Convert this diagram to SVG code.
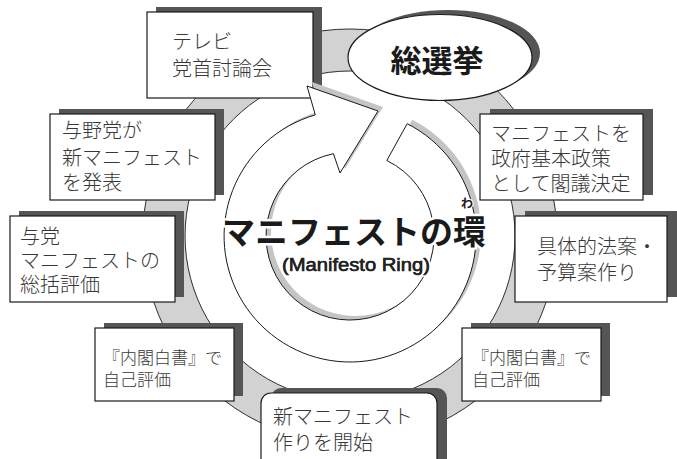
<svg xmlns="http://www.w3.org/2000/svg" width="677" height="459" viewBox="0 0 677 459">
<defs>
<style>
.sh{fill:#555555}
.bx{fill:#ffffff;stroke:#1a1a1a;stroke-width:1.2}
.t{font-family:"Noto Sans CJK JP","Noto Sans",sans-serif;font-size:20px;font-weight:300;fill:#383838}
.ts{font-family:"Noto Sans CJK JP","Noto Sans",sans-serif;font-size:17px;font-weight:300;fill:#383838}
</style>
</defs>
<rect width="677" height="459" fill="#ffffff"/>
<g id="bgring">
<path d="M350,29 A207,207 0 1 1 349.9,29 Z M350,71 A165,165 0 1 0 350.1,71 Z" fill="#d2d2d2" fill-rule="evenodd" stroke="#1a1a1a" stroke-width="0.9"/>
</g>
<g id="n-tv">
<rect class="sh" x="156" y="7" width="166" height="86"/>
<rect class="bx" x="147" y="12" width="166" height="86"/>
<text class="t" x="172" y="49">テレビ</text>
<text class="t" x="172" y="76">党首討論会</text>
</g>
<g id="n-election">
<ellipse class="sh" cx="448" cy="53" rx="92" ry="43"/>
<ellipse class="bx" cx="440" cy="57.5" rx="92" ry="43"/>
<text x="437" y="72" text-anchor="middle" font-family="Noto Sans CJK JP,sans-serif" font-size="31" font-weight="bold" fill="#1a1a1a">総選挙</text>
</g>
<g id="n-cabinet">
<rect class="sh" x="490" y="109" width="163" height="86"/>
<rect class="bx" x="480" y="114" width="163" height="86"/>
<text class="t" x="491" y="141">マニフェストを</text>
<text class="t" x="491" y="166">政府基本政策</text>
<text class="t" x="491" y="191">として閣議決定</text>
</g>
<g id="n-bills">
<rect class="sh" x="525" y="211" width="152" height="86"/>
<rect class="bx" x="515" y="216" width="152" height="86"/>
<text class="t" x="537" y="254">具体的法案・</text>
<text class="t" x="537" y="280">予算案作り</text>
</g>
<g id="n-parties">
<rect class="sh" x="59" y="109" width="165" height="86"/>
<rect class="bx" x="50" y="114" width="165" height="86"/>
<text class="t" x="62" y="138">与野党が</text>
<text class="t" x="62" y="165">新マニフェスト</text>
<text class="t" x="62" y="190">を発表</text>
</g>
<g id="n-ruling">
<rect class="sh" x="19" y="211" width="165" height="86"/>
<rect class="bx" x="10" y="216" width="165" height="86"/>
<text class="t" x="20" y="244">与党</text>
<text class="t" x="20" y="268">マニフェストの</text>
<text class="t" x="20" y="292">総括評価</text>
</g>
<g id="n-white-left">
<rect class="sh" x="104" y="323" width="139" height="73"/>
<rect class="bx" x="95" y="328" width="139" height="73"/>
<text class="ts" x="103" y="364">『内閣白書』で</text>
<text class="ts" x="103" y="386">自己評価</text>
</g>
<g id="n-white-right">
<rect class="sh" x="471" y="323" width="139" height="73"/>
<rect class="bx" x="462" y="328" width="139" height="73"/>
<text class="ts" x="472" y="364">『内閣白書』で</text>
<text class="ts" x="472" y="386">自己評価</text>
</g>
<g id="n-new">
<rect class="sh" x="271" y="388" width="176" height="90" rx="10"/>
<rect class="bx" x="261" y="393" width="176" height="90" rx="10"/>
<text class="t" x="273" y="424">新マニフェスト</text>
<text class="t" x="273" y="450">作りを開始</text>
</g>
<g id="connectors">
<path transform="translate(5,-4)" d="M407.2,123.7 A126,126 0 1 1 315.3,114.9 L307,86 L378,111 L340,173 L333.4,153.7 A84,84 0 1 0 386.8,160.5 Z" fill="#c4c4c4"/>
<path d="M407.2,123.7 A126,126 0 1 1 315.3,114.9 L307,86 L378,111 L340,173 L333.4,153.7 A84,84 0 1 0 386.8,160.5 Z" fill="#ffffff" stroke="#1a1a1a" stroke-width="1" stroke-linejoin="miter"/>
</g>
<g id="title">
<text x="354" y="244" text-anchor="middle" font-family="Noto Sans CJK JP,sans-serif" font-size="33" font-weight="bold" fill="#1a1a1a" stroke="#ffffff" stroke-width="5" paint-order="stroke" stroke-linejoin="round">マニフェストの環</text>
<text x="467" y="208" text-anchor="middle" font-family="Noto Sans CJK JP,sans-serif" font-size="12" font-weight="bold" fill="#1a1a1a" stroke="#ffffff" stroke-width="2" paint-order="stroke">わ</text>
<text x="356" y="271" text-anchor="middle" font-family="Liberation Sans,Arial,sans-serif" font-size="18" fill="#222222" stroke="#ffffff" stroke-width="3.4" paint-order="stroke" stroke-linejoin="round" textLength="148" lengthAdjust="spacingAndGlyphs">(Manifesto Ring)</text>
<text x="356" y="271" text-anchor="middle" font-family="Liberation Sans,Arial,sans-serif" font-size="18" fill="#222222" stroke="#222222" stroke-width="0.5" textLength="148" lengthAdjust="spacingAndGlyphs">(Manifesto Ring)</text>
</g>
</svg>
